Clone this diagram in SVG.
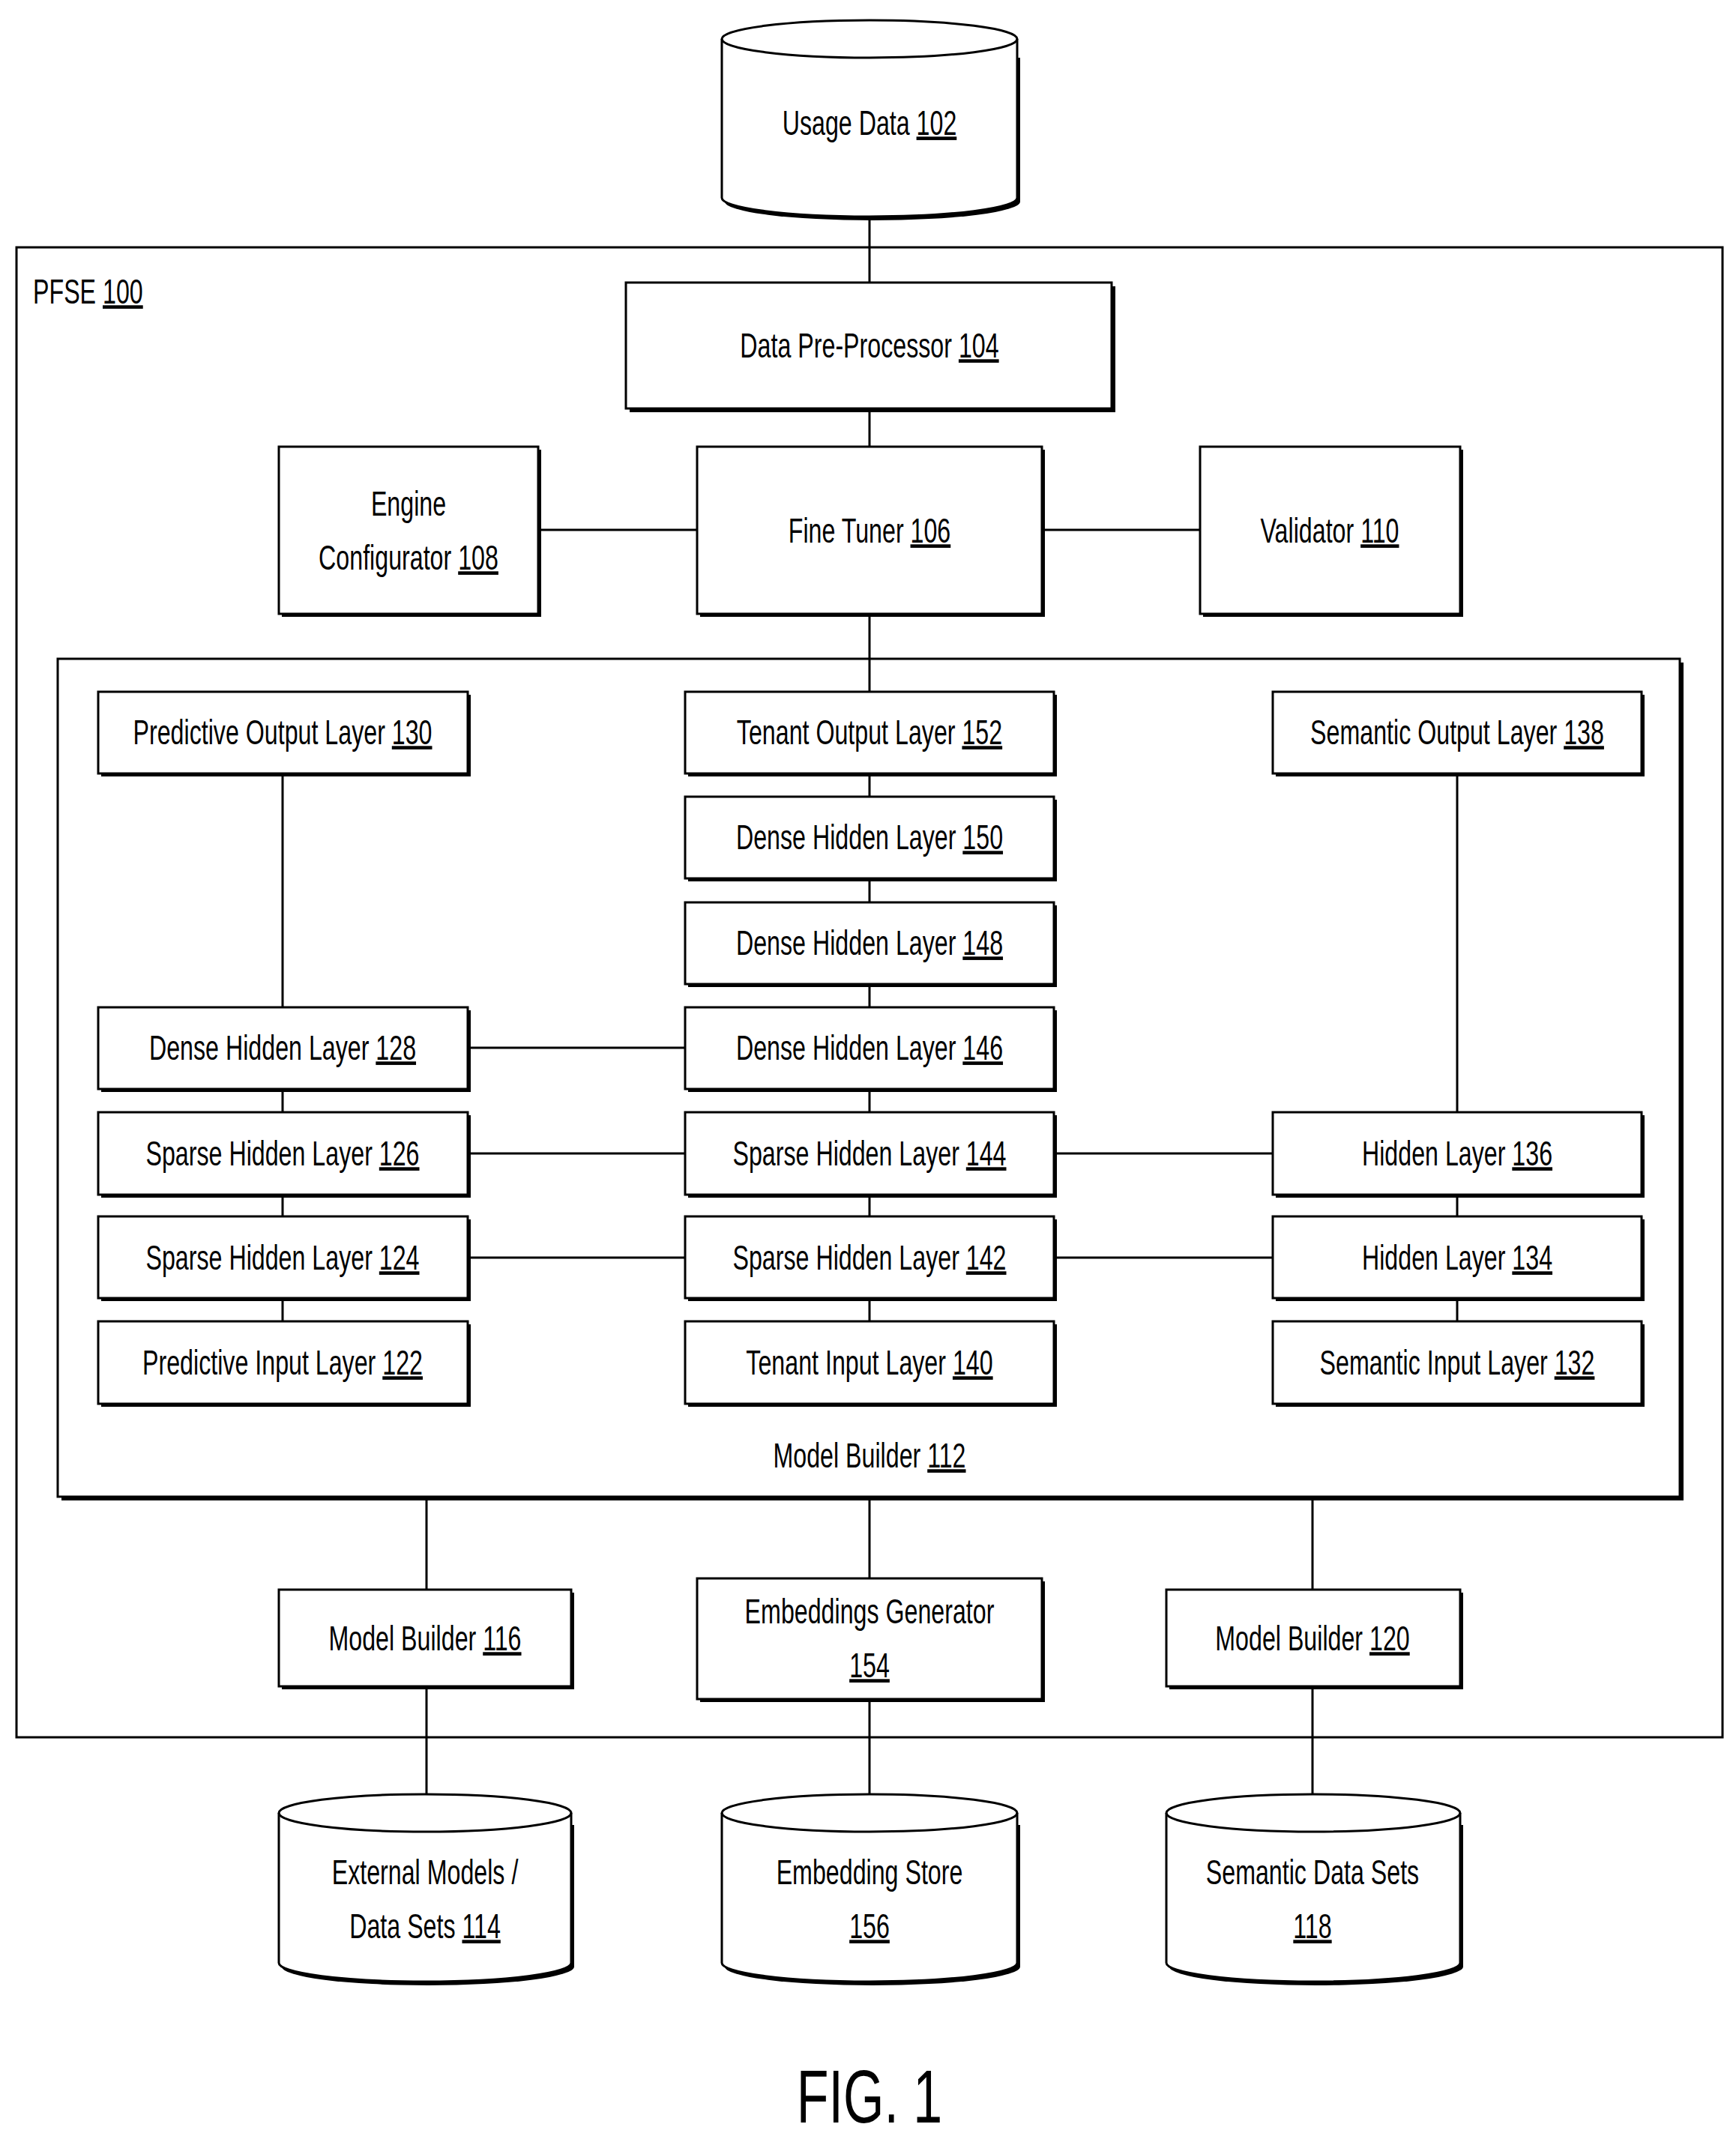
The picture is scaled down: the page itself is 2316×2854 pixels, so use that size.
<svg xmlns="http://www.w3.org/2000/svg" width="2316" height="2854" viewBox="0 0 2316 2854">
<style>
.b{fill:#fff;stroke:#000;stroke-width:3}
.s{fill:#000}
.c{stroke:#000;stroke-width:3;fill:none}
text{font-family:"Liberation Sans",Arial,sans-serif;font-size:46px;text-anchor:middle;fill:#000}
.u{text-decoration:underline}
</style>
<rect class="b" x="22" y="330" width="2276" height="1988"/>
<text transform="translate(44,405) scale(0.7,1)" style="text-anchor:start">PFSE <tspan class="u">100</tspan></text>
<rect class="s" x="82" y="884" width="2164" height="1118"/>
<rect class="b" x="77" y="879" width="2164" height="1118"/>
<text transform="translate(1160,1958) scale(0.7,1)">Model Builder <tspan class="u">112</tspan></text>
<g id="connectors" class="c">
<path d="M1160 264V596M1160 819V923M1160 923V1873M1160 1997V2394M718 707H1601M377 1032V1344M377 1453V1763M1944 1032V1484M1944 1594V1763M624 1398H914M624 1539H1698M624 1678H1698M569 1997V2394M1751 1997V2394"/>
</g>
<g id="n102"><path class="s" d="M963 72V264A197 25 0 0 0 1357 264V72Z" transform="translate(4,5)"/><path class="b" d="M963 52A197 25 0 0 1 1357 52V264A197 25 0 0 1 963 264Z"/><path class="c" d="M963 52A197 25 0 0 0 1357 52"/><text transform="translate(1160,180) scale(0.7,1)">Usage Data <tspan class="u">102</tspan></text></g>
<g id="n104"><rect class="s" x="840" y="382" width="648" height="168"/><rect class="b" x="835" y="377" width="648" height="168"/><text transform="translate(1160,477) scale(0.7,1)">Data Pre-Processor <tspan class="u">104</tspan></text></g>
<g id="n108"><rect class="s" x="376" y="600" width="346" height="223"/><rect class="b" x="372" y="596" width="346" height="223"/><text transform="translate(545,688) scale(0.7,1)">Engine</text><text transform="translate(545,760) scale(0.7,1)">Configurator <tspan class="u">108</tspan></text></g>
<g id="n106"><rect class="s" x="934" y="600" width="460" height="223"/><rect class="b" x="930" y="596" width="460" height="223"/><text transform="translate(1160,724) scale(0.7,1)">Fine Tuner <tspan class="u">106</tspan></text></g>
<g id="n110"><rect class="s" x="1605" y="600" width="347" height="223"/><rect class="b" x="1601" y="596" width="347" height="223"/><text transform="translate(1774,724) scale(0.7,1)">Validator <tspan class="u">110</tspan></text></g>
<g id="n130"><rect class="s" x="135" y="927" width="493" height="109"/><rect class="b" x="131" y="923" width="493" height="109"/><text transform="translate(377,993) scale(0.7,1)">Predictive Output Layer <tspan class="u">130</tspan></text></g>
<g id="n152"><rect class="s" x="918" y="927" width="492" height="109"/><rect class="b" x="914" y="923" width="492" height="109"/><text transform="translate(1160,993) scale(0.7,1)">Tenant Output Layer <tspan class="u">152</tspan></text></g>
<g id="n138"><rect class="s" x="1702" y="927" width="492" height="109"/><rect class="b" x="1698" y="923" width="492" height="109"/><text transform="translate(1944,993) scale(0.7,1)">Semantic Output Layer <tspan class="u">138</tspan></text></g>
<g id="n150"><rect class="s" x="918" y="1067" width="492" height="109"/><rect class="b" x="914" y="1063" width="492" height="109"/><text transform="translate(1160,1133) scale(0.7,1)">Dense Hidden Layer <tspan class="u">150</tspan></text></g>
<g id="n148"><rect class="s" x="918" y="1208" width="492" height="109"/><rect class="b" x="914" y="1204" width="492" height="109"/><text transform="translate(1160,1274) scale(0.7,1)">Dense Hidden Layer <tspan class="u">148</tspan></text></g>
<g id="n128"><rect class="s" x="135" y="1348" width="493" height="109"/><rect class="b" x="131" y="1344" width="493" height="109"/><text transform="translate(377,1414) scale(0.7,1)">Dense Hidden Layer <tspan class="u">128</tspan></text></g>
<g id="n146"><rect class="s" x="918" y="1348" width="492" height="109"/><rect class="b" x="914" y="1344" width="492" height="109"/><text transform="translate(1160,1414) scale(0.7,1)">Dense Hidden Layer <tspan class="u">146</tspan></text></g>
<g id="n126"><rect class="s" x="135" y="1488" width="493" height="110"/><rect class="b" x="131" y="1484" width="493" height="110"/><text transform="translate(377,1555) scale(0.7,1)">Sparse Hidden Layer <tspan class="u">126</tspan></text></g>
<g id="n144"><rect class="s" x="918" y="1488" width="492" height="110"/><rect class="b" x="914" y="1484" width="492" height="110"/><text transform="translate(1160,1555) scale(0.7,1)">Sparse Hidden Layer <tspan class="u">144</tspan></text></g>
<g id="n136"><rect class="s" x="1702" y="1488" width="492" height="110"/><rect class="b" x="1698" y="1484" width="492" height="110"/><text transform="translate(1944,1555) scale(0.7,1)">Hidden Layer <tspan class="u">136</tspan></text></g>
<g id="n124"><rect class="s" x="135" y="1627" width="493" height="109"/><rect class="b" x="131" y="1623" width="493" height="109"/><text transform="translate(377,1694) scale(0.7,1)">Sparse Hidden Layer <tspan class="u">124</tspan></text></g>
<g id="n142"><rect class="s" x="918" y="1627" width="492" height="109"/><rect class="b" x="914" y="1623" width="492" height="109"/><text transform="translate(1160,1694) scale(0.7,1)">Sparse Hidden Layer <tspan class="u">142</tspan></text></g>
<g id="n134"><rect class="s" x="1702" y="1627" width="492" height="109"/><rect class="b" x="1698" y="1623" width="492" height="109"/><text transform="translate(1944,1694) scale(0.7,1)">Hidden Layer <tspan class="u">134</tspan></text></g>
<g id="n122"><rect class="s" x="135" y="1767" width="493" height="110"/><rect class="b" x="131" y="1763" width="493" height="110"/><text transform="translate(377,1834) scale(0.7,1)">Predictive Input Layer <tspan class="u">122</tspan></text></g>
<g id="n140"><rect class="s" x="918" y="1767" width="492" height="110"/><rect class="b" x="914" y="1763" width="492" height="110"/><text transform="translate(1160,1834) scale(0.7,1)">Tenant Input Layer <tspan class="u">140</tspan></text></g>
<g id="n132"><rect class="s" x="1702" y="1767" width="492" height="110"/><rect class="b" x="1698" y="1763" width="492" height="110"/><text transform="translate(1944,1834) scale(0.7,1)">Semantic Input Layer <tspan class="u">132</tspan></text></g>
<g id="n116"><rect class="s" x="376" y="2125" width="390" height="129"/><rect class="b" x="372" y="2121" width="390" height="129"/><text transform="translate(567,2202) scale(0.7,1)">Model Builder <tspan class="u">116</tspan></text></g>
<g id="n154"><rect class="s" x="934" y="2110" width="460" height="161"/><rect class="b" x="930" y="2106" width="460" height="161"/><text transform="translate(1160,2166) scale(0.7,1)">Embeddings Generator</text><text transform="translate(1160,2238) scale(0.7,1)"><tspan class="u">154</tspan></text></g>
<g id="n120"><rect class="s" x="1560" y="2125" width="392" height="129"/><rect class="b" x="1556" y="2121" width="392" height="129"/><text transform="translate(1751,2202) scale(0.7,1)">Model Builder <tspan class="u">120</tspan></text></g>
<g id="n114"><path class="s" d="M372 2430V2619A195 25 0 0 0 762 2619V2430Z" transform="translate(4,5)"/><path class="b" d="M372 2419A195 25 0 0 1 762 2419V2619A195 25 0 0 1 372 2619Z"/><path class="c" d="M372 2419A195 25 0 0 0 762 2419"/><text transform="translate(567,2514) scale(0.7,1)">External Models /</text><text transform="translate(567,2586) scale(0.7,1)">Data Sets <tspan class="u">114</tspan></text></g>
<g id="n156"><path class="s" d="M963 2430V2619A197 25 0 0 0 1357 2619V2430Z" transform="translate(4,5)"/><path class="b" d="M963 2419A197 25 0 0 1 1357 2419V2619A197 25 0 0 1 963 2619Z"/><path class="c" d="M963 2419A197 25 0 0 0 1357 2419"/><text transform="translate(1160,2514) scale(0.7,1)">Embedding Store</text><text transform="translate(1160,2586) scale(0.7,1)"><tspan class="u">156</tspan></text></g>
<g id="n118"><path class="s" d="M1556 2430V2619A196 25 0 0 0 1948 2619V2430Z" transform="translate(4,5)"/><path class="b" d="M1556 2419A196 25 0 0 1 1948 2419V2619A196 25 0 0 1 1556 2619Z"/><path class="c" d="M1556 2419A196 25 0 0 0 1948 2419"/><text transform="translate(1751,2514) scale(0.7,1)">Semantic Data Sets</text><text transform="translate(1751,2586) scale(0.7,1)"><tspan class="u">118</tspan></text></g>
<text transform="translate(1160,2832) scale(0.7,1)" style="font-size:100px">FIG. 1</text>
</svg>
